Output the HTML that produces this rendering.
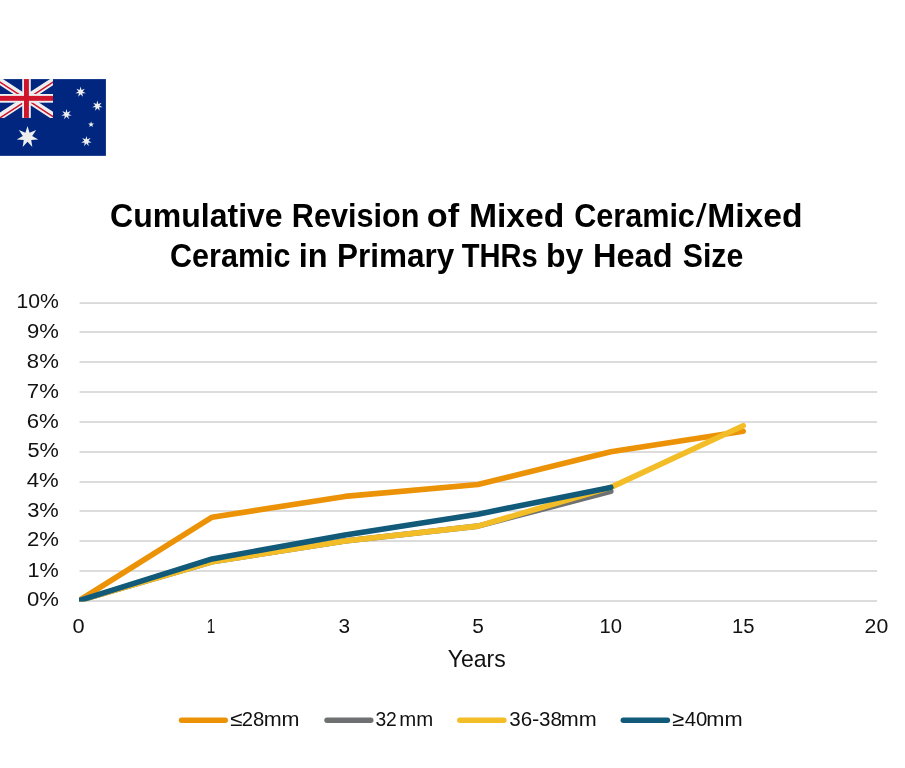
<!DOCTYPE html>
<html lang="en">
<head>
<meta charset="utf-8">
<title>Cumulative Revision of Mixed Ceramic/Mixed Ceramic in Primary THRs by Head Size</title>
<style>
html,body{margin:0;padding:0;background:#fff;}
body{width:905px;height:768px;overflow:hidden;position:relative;font-family:"Liberation Sans",sans-serif;}
svg{position:absolute;left:0;top:0;display:block;}
text{font-family:"Liberation Sans",sans-serif;}
</style>
</head>
<body>
<svg width="905" height="768" viewBox="0 0 905 768">
<rect x="0" y="0" width="905" height="768" fill="#ffffff"/>
<g id="flag">
<rect x="0" y="79.1" width="105.9" height="76.75" fill="#012680"/>
<clipPath id="jack"><rect x="0" y="79.1" width="53.0" height="38.8"/></clipPath>
<g clip-path="url(#jack)">
<path d="M-13.50,72.42 L66.50,124.58 M26.50,98.50 L66.50,72.42 M26.50,99.30 L-13.50,125.38 " stroke="#eeeeee" stroke-width="6.9" fill="none"/>
<path d="M-13.50,73.37 L66.50,125.53 M26.50,99.45 L66.50,73.37 M26.50,100.60 L-13.50,126.68 " stroke="#cf142b" stroke-width="1.5" fill="none"/>
<rect x="22.2" y="79.1" width="8.6" height="38.8" fill="#eeeeee"/>
<rect x="0" y="94.0" width="53.0" height="8.7" fill="#eeeeee"/>
<rect x="24" y="79.1" width="4.9" height="38.8" fill="#cf142b"/>
<rect x="0" y="95.9" width="53.0" height="4.9" fill="#cf142b"/>
</g>
<polygon points="27.50,125.90 29.58,132.68 36.18,130.08 32.18,135.93 38.32,139.47 31.25,139.99 32.32,147.00 27.50,141.80 22.68,147.00 23.75,139.99 16.68,139.47 22.82,135.93 18.82,130.08 25.42,132.68" fill="#eeeeee"/>
<polygon points="80.60,86.60 81.53,90.06 84.82,88.63 82.70,91.52 85.86,93.20 82.28,93.34 82.94,96.87 80.60,94.15 78.26,96.87 78.92,93.34 75.34,93.20 78.50,91.52 76.38,88.63 79.67,90.06" fill="#eeeeee"/>
<polygon points="97.40,100.60 98.33,104.06 101.62,102.63 99.50,105.52 102.66,107.20 99.08,107.34 99.74,110.87 97.40,108.15 95.06,110.87 95.72,107.34 92.14,107.20 95.30,105.52 93.18,102.63 96.47,104.06" fill="#eeeeee"/>
<polygon points="66.50,109.00 67.43,112.46 70.72,111.03 68.60,113.92 71.76,115.60 68.18,115.74 68.84,119.27 66.50,116.55 64.16,119.27 64.82,115.74 61.24,115.60 64.40,113.92 62.28,111.03 65.57,112.46" fill="#eeeeee"/>
<polygon points="86.40,135.90 87.33,139.36 90.62,137.93 88.50,140.82 91.66,142.50 88.08,142.64 88.74,146.17 86.40,143.45 84.06,146.17 84.72,142.64 81.14,142.50 84.30,140.82 82.18,137.93 85.47,139.36" fill="#eeeeee"/>
<polygon points="91.10,121.45 91.86,123.45 94.00,123.56 92.34,124.90 92.89,126.97 91.10,125.80 89.31,126.97 89.86,124.90 88.20,123.56 90.34,123.45" fill="#eeeeee"/>
</g>
<g font-weight="bold" fill="#000000">
<text y="226.80" font-size="32.5"><tspan x="110.12" textLength="172.53" lengthAdjust="spacingAndGlyphs">Cumulative</tspan> <tspan x="291.83" textLength="127.52" lengthAdjust="spacingAndGlyphs">Revision</tspan> <tspan x="426.73" textLength="32.33" lengthAdjust="spacingAndGlyphs">of</tspan> <tspan x="468.93" textLength="95.41" lengthAdjust="spacingAndGlyphs">Mixed</tspan> <tspan x="574.18" textLength="120.72" lengthAdjust="spacingAndGlyphs">Ceramic</tspan><tspan x="695.80" textLength="10.91" lengthAdjust="spacingAndGlyphs" font-weight="normal">/</tspan><tspan x="707.23" textLength="95.41" lengthAdjust="spacingAndGlyphs">Mixed</tspan></text>
<text y="266.90" font-size="32.5"><tspan x="170.08" textLength="120.42" lengthAdjust="spacingAndGlyphs">Ceramic</tspan> <tspan x="298.63" textLength="28.86" lengthAdjust="spacingAndGlyphs">in</tspan> <tspan x="336.98" textLength="117.25" lengthAdjust="spacingAndGlyphs">Primary</tspan> <tspan x="461.71" textLength="75.89" lengthAdjust="spacingAndGlyphs">THRs</tspan> <tspan x="546.02" textLength="37.41" lengthAdjust="spacingAndGlyphs">by</tspan> <tspan x="593.00" textLength="79.52" lengthAdjust="spacingAndGlyphs">Head</tspan> <tspan x="682.79" textLength="60.52" lengthAdjust="spacingAndGlyphs">Size</tspan></text>
</g>
<g fill="#d9d9d9">
<rect x="79.6" y="600.10" width="797.5" height="1.8"/>
<rect x="79.6" y="570.10" width="797.5" height="1.8"/>
<rect x="79.6" y="540.10" width="797.5" height="1.8"/>
<rect x="79.6" y="510.10" width="797.5" height="1.8"/>
<rect x="79.6" y="481.10" width="797.5" height="1.8"/>
<rect x="79.6" y="451.10" width="797.5" height="1.8"/>
<rect x="79.6" y="421.10" width="797.5" height="1.8"/>
<rect x="79.6" y="391.10" width="797.5" height="1.8"/>
<rect x="79.6" y="361.10" width="797.5" height="1.8"/>
<rect x="79.6" y="331.10" width="797.5" height="1.8"/>
<rect x="79.6" y="302.20" width="797.5" height="1.8"/>
</g>
<g fill="#111111">
<text y="307.90" font-size="20.7"><tspan x="16.41" textLength="42.36" lengthAdjust="spacingAndGlyphs">10%</tspan></text>
<text y="338.00" font-size="20.7"><tspan x="26.95" textLength="31.88" lengthAdjust="spacingAndGlyphs">9%</tspan></text>
<text y="368.00" font-size="20.7"><tspan x="26.86" textLength="31.98" lengthAdjust="spacingAndGlyphs">8%</tspan></text>
<text y="398.00" font-size="20.7"><tspan x="26.84" textLength="32.00" lengthAdjust="spacingAndGlyphs">7%</tspan></text>
<text y="428.00" font-size="20.7"><tspan x="26.69" textLength="32.15" lengthAdjust="spacingAndGlyphs">6%</tspan></text>
<text y="457.20" font-size="20.7"><tspan x="27.43" textLength="31.39" lengthAdjust="spacingAndGlyphs">5%</tspan></text>
<text y="487.00" font-size="20.7"><tspan x="26.80" textLength="32.04" lengthAdjust="spacingAndGlyphs">4%</tspan></text>
<text y="516.60" font-size="20.7"><tspan x="27.18" textLength="31.65" lengthAdjust="spacingAndGlyphs">3%</tspan></text>
<text y="546.40" font-size="20.7"><tspan x="26.90" textLength="31.94" lengthAdjust="spacingAndGlyphs">2%</tspan></text>
<text y="577.00" font-size="20.7"><tspan x="27.47" textLength="31.35" lengthAdjust="spacingAndGlyphs">1%</tspan></text>
<text y="605.80" font-size="20.7"><tspan x="26.92" textLength="31.92" lengthAdjust="spacingAndGlyphs">0%</tspan></text>
</g>
<g fill="#111111">
<text y="632.90" font-size="20.7"><tspan x="72.63" textLength="12.11" lengthAdjust="spacingAndGlyphs">0</tspan></text>
<text y="632.90" font-size="20.7"><tspan x="206.66" textLength="8.49" lengthAdjust="spacingAndGlyphs">1</tspan></text>
<text y="632.90" font-size="20.7"><tspan x="338.62" textLength="11.59" lengthAdjust="spacingAndGlyphs">3</tspan></text>
<text y="632.90" font-size="20.7"><tspan x="472.27" textLength="11.59" lengthAdjust="spacingAndGlyphs">5</tspan></text>
<text y="632.90" font-size="20.7"><tspan x="599.58" textLength="22.53" lengthAdjust="spacingAndGlyphs">10</tspan></text>
<text y="632.90" font-size="20.7"><tspan x="732.08" textLength="22.47" lengthAdjust="spacingAndGlyphs">15</tspan></text>
<text y="632.90" font-size="20.7"><tspan x="864.64" textLength="23.61" lengthAdjust="spacingAndGlyphs">20</tspan></text>
<text y="666.80" font-size="24.2"><tspan x="447.68" textLength="58.04" lengthAdjust="spacingAndGlyphs">Years</tspan></text>
</g>
<clipPath id="plot"><rect x="79" y="290" width="820" height="311.6"/></clipPath>
<g clip-path="url(#plot)" fill="none" stroke-width="5.6" stroke-linecap="round" stroke-linejoin="round">
<polyline points="79.2,600.5 212.1,517.2 345.0,496.4 477.9,484.5 610.8,451.8 743.2,431.2" stroke="#ec9207"/>
<polyline points="79.2,600.5 212.1,561.8 345.0,541.0 477.9,526.1 610.8,491.3" stroke="#6d7172"/>
<polyline points="79.2,600.5 212.1,561.8 345.0,541.0 477.9,526.1 610.8,487.4 743.2,425.7" stroke="#f3bd27"/>
<polyline points="79.2,600.5 212.1,558.9 345.0,535.0 477.9,514.2 610.8,487.4" stroke="#115a7a"/>
</g>
<g fill="#111111">
<line x1="181.50" y1="720.3" x2="225.30" y2="720.3" stroke="#ec9207" stroke-width="5.4" stroke-linecap="round"/>
<text y="725.60" font-size="20.7"><tspan x="229.93" textLength="12.27" lengthAdjust="spacingAndGlyphs">≤</tspan><tspan x="241.69" textLength="22.52" lengthAdjust="spacingAndGlyphs">28</tspan><tspan x="263.65" textLength="35.88" lengthAdjust="spacingAndGlyphs">mm</tspan></text>
<line x1="327.00" y1="720.3" x2="370.80" y2="720.3" stroke="#6d7172" stroke-width="5.4" stroke-linecap="round"/>
<text y="725.60" font-size="20.7"><tspan x="375.38" textLength="21.43" lengthAdjust="spacingAndGlyphs">32</tspan><tspan x="399.23" textLength="33.92" lengthAdjust="spacingAndGlyphs">mm</tspan></text>
<line x1="459.80" y1="720.3" x2="503.90" y2="720.3" stroke="#f3bd27" stroke-width="5.4" stroke-linecap="round"/>
<text y="725.60" font-size="20.7"><tspan x="509.33" textLength="22.89" lengthAdjust="spacingAndGlyphs">36</tspan><tspan x="532.12" textLength="7.28" lengthAdjust="spacingAndGlyphs">-</tspan><tspan x="539.03" textLength="22.89" lengthAdjust="spacingAndGlyphs">38</tspan><tspan x="560.85" textLength="35.88" lengthAdjust="spacingAndGlyphs">mm</tspan></text>
<line x1="623.30" y1="720.3" x2="667.40" y2="720.3" stroke="#115a7a" stroke-width="5.4" stroke-linecap="round"/>
<text y="725.60" font-size="20.7"><tspan x="672.09" textLength="12.00" lengthAdjust="spacingAndGlyphs">≥</tspan><tspan x="684.64" textLength="22.56" lengthAdjust="spacingAndGlyphs">40</tspan><tspan x="706.33" textLength="36.31" lengthAdjust="spacingAndGlyphs">mm</tspan></text>
</g>
</svg>
</body>
</html>
